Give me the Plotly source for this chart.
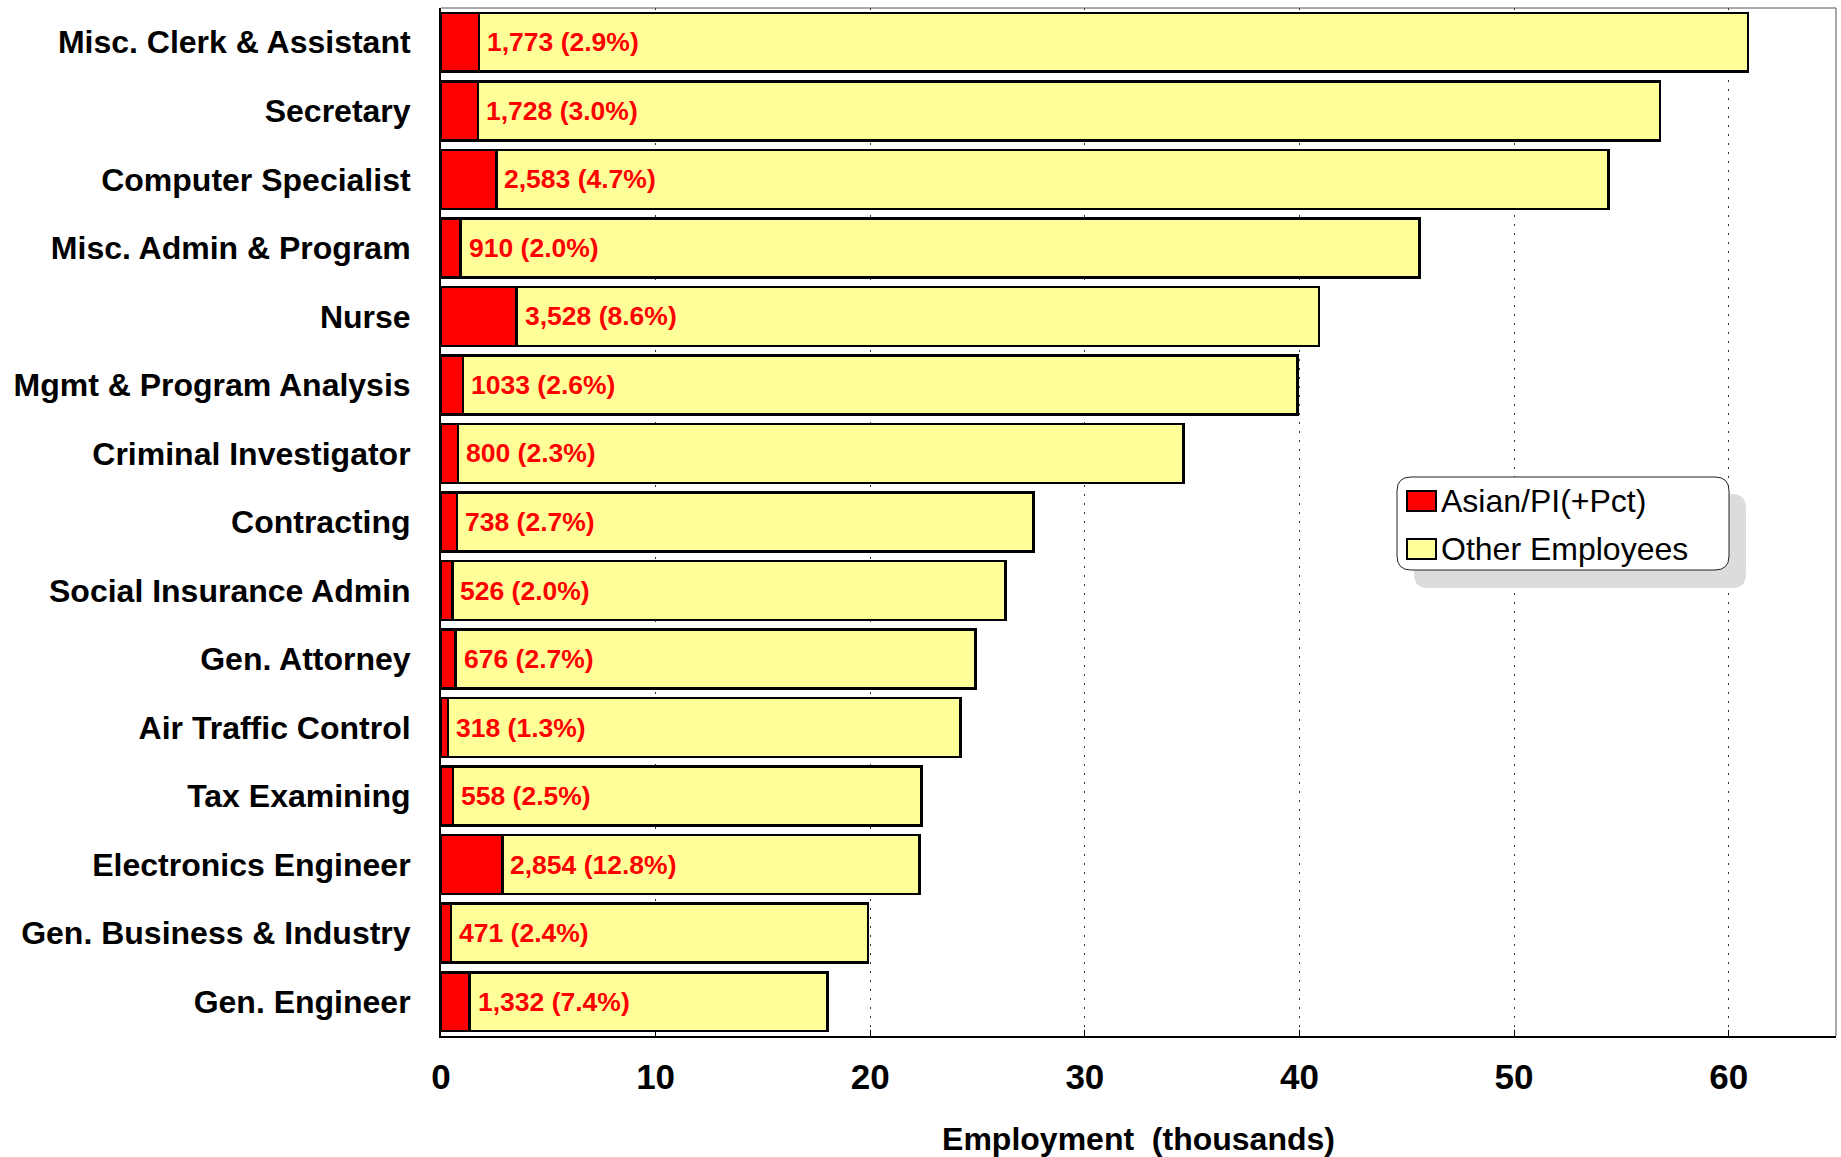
import plotly.graph_objects as go

# Occupations, top to bottom
occupations = [
    "Misc. Clerk & Assistant",
    "Secretary",
    "Computer Specialist",
    "Misc. Admin & Program",
    "Nurse",
    "Mgmt & Program Analysis",
    "Criminal Investigator",
    "Contracting",
    "Social Insurance Admin",
    "Gen. Attorney",
    "Air Traffic Control",
    "Tax Examining",
    "Electronics Engineer",
    "Gen. Business & Industry",
    "Gen. Engineer",
]

# Asian/PI employees (as printed) and their share of the occupation
asian_counts = ["1,773", "1,728", "2,583", "910", "3,528", "1033", "800", "738",
                "526", "676", "318", "558", "2,854", "471", "1,332"]
asian_pct = [2.9, 3.0, 4.7, 2.0, 8.6, 2.6, 2.3, 2.7, 2.0, 2.7, 1.3, 2.5, 12.8, 2.4, 7.4]

# Total employment per occupation (thousands)
total_k = [60.9, 56.8, 54.4, 45.6, 40.9, 39.9, 34.6, 27.6, 26.3, 24.9, 24.2, 22.4, 22.3, 19.9, 18.0]

x_ticks = [0, 10, 20, 30, 40, 50, 60]

asian_k = [int(s.replace(",", "")) / 1000 for s in asian_counts]
other_k = [t - a for t, a in zip(total_k, asian_k)]

FONT = "Liberation Sans, Arial, Helvetica, sans-serif"
RED = "#ff0000"
YELLOW = "#ffff99"

fig = go.Figure()
fig.add_bar(
    y=occupations, x=asian_k, orientation="h", name="Asian/PI(+Pct)",
    marker=dict(color=RED, line=dict(color="black", width=2.5)), width=0.86,
)
fig.add_bar(
    y=occupations, x=other_k, orientation="h", name="Other Employees",
    marker=dict(color=YELLOW, line=dict(color="black", width=2.5)), width=0.86,
)

# Value labels next to the red segment
for occ, a, cnt, pct in zip(occupations, asian_k, asian_counts, asian_pct):
    fig.add_annotation(
        x=a, y=occ, xref="x", yref="y", text=f"{cnt} ({pct:.1f}%)",
        showarrow=False, xanchor="left", yanchor="middle", xshift=6,
        font=dict(family=FONT, size=26.5, color=RED, weight="bold"),
    )

# Plot geometry in pixels (used to place the legend box)
W, H = 1841, 1157
ML, MR, MT, MB = 441, 5, 8, 121
PW, PH = W - ML - MR, H - MT - MB


def px_x(px):
    return (px - ML) / PW


def px_y(py):
    return 1 - (py - MT) / PH


def rounded_rect(x0, y0, x1, y1, r):
    rx, ry = r / PW, r / PH
    a0, a1 = px_x(x0), px_x(x1)
    b0, b1 = px_y(y0), px_y(y1)  # b0 top, b1 bottom
    return (
        f"M {a0 + rx},{b0} L {a1 - rx},{b0} Q {a1},{b0} {a1},{b0 - ry} "
        f"L {a1},{b1 + ry} Q {a1},{b1} {a1 - rx},{b1} "
        f"L {a0 + rx},{b1} Q {a0},{b1} {a0},{b1 + ry} "
        f"L {a0},{b0 - ry} Q {a0},{b0} {a0 + rx},{b0} Z"
    )


shapes = [
    # thin frame on top and right
    dict(type="line", xref="paper", yref="paper", x0=0, x1=1, y0=1, y1=1,
         line=dict(color="#555555", width=1)),
    dict(type="line", xref="paper", yref="paper", x0=1, x1=1, y0=0, y1=1,
         line=dict(color="#555555", width=1)),
    # legend shadow and box
    dict(type="path", xref="paper", yref="paper",
         path=rounded_rect(1414, 494, 1746, 588, 14),
         fillcolor="#dcdcdc", line=dict(width=0)),
    dict(type="path", xref="paper", yref="paper",
         path=rounded_rect(1397, 477, 1729, 570, 14),
         fillcolor="white", line=dict(color="#222222", width=1)),
]

legend_items = [("Asian/PI(+Pct)", RED, 501), ("Other Employees", YELLOW, 549)]
for name, color, cy in legend_items:
    shapes.append(dict(type="rect", xref="paper", yref="paper",
                       x0=px_x(1407), x1=px_x(1436), y0=px_y(cy - 10), y1=px_y(cy + 10),
                       fillcolor=color, line=dict(color="black", width=2)))
    fig.add_annotation(
        x=px_x(1439), y=px_y(cy), xref="paper", yref="paper", text=name,
        showarrow=False, xanchor="left", yanchor="middle",
        font=dict(family=FONT, size=32, color="black"),
    )

fig.update_layout(
    width=W, height=H,
    margin=dict(l=ML, r=MR, t=MT, b=MB, pad=0),
    barmode="stack",
    showlegend=False,
    paper_bgcolor="white",
    plot_bgcolor="white",
    font=dict(family=FONT, color="black"),
    shapes=shapes,
)

fig.update_xaxes(
    range=[0, 65], tickvals=x_ticks, ticktext=[str(v) for v in x_ticks],
    showgrid=True, gridcolor="#333333", gridwidth=1, griddash="2px,7px",
    zeroline=False, showline=True, linecolor="black", linewidth=2,
    ticks="inside", ticklen=6, tickcolor="black", tickwidth=1,
    tickfont=dict(family=FONT, size=35, weight="bold"),
    ticklabelstandoff=9,
    title=dict(text="Employment\u00a0 (thousands)", standoff=34,
               font=dict(family=FONT, size=32, weight="bold")),
)
fig.update_yaxes(
    type="category", categoryorder="array", categoryarray=occupations,
    range=[14.5, -0.5], showgrid=False, zeroline=False,
    showline=True, linecolor="black", linewidth=2, ticks="",
    tickfont=dict(family=FONT, size=32, weight="bold"),
    ticklabelstandoff=22,
)

fig.write_html("out.html")
